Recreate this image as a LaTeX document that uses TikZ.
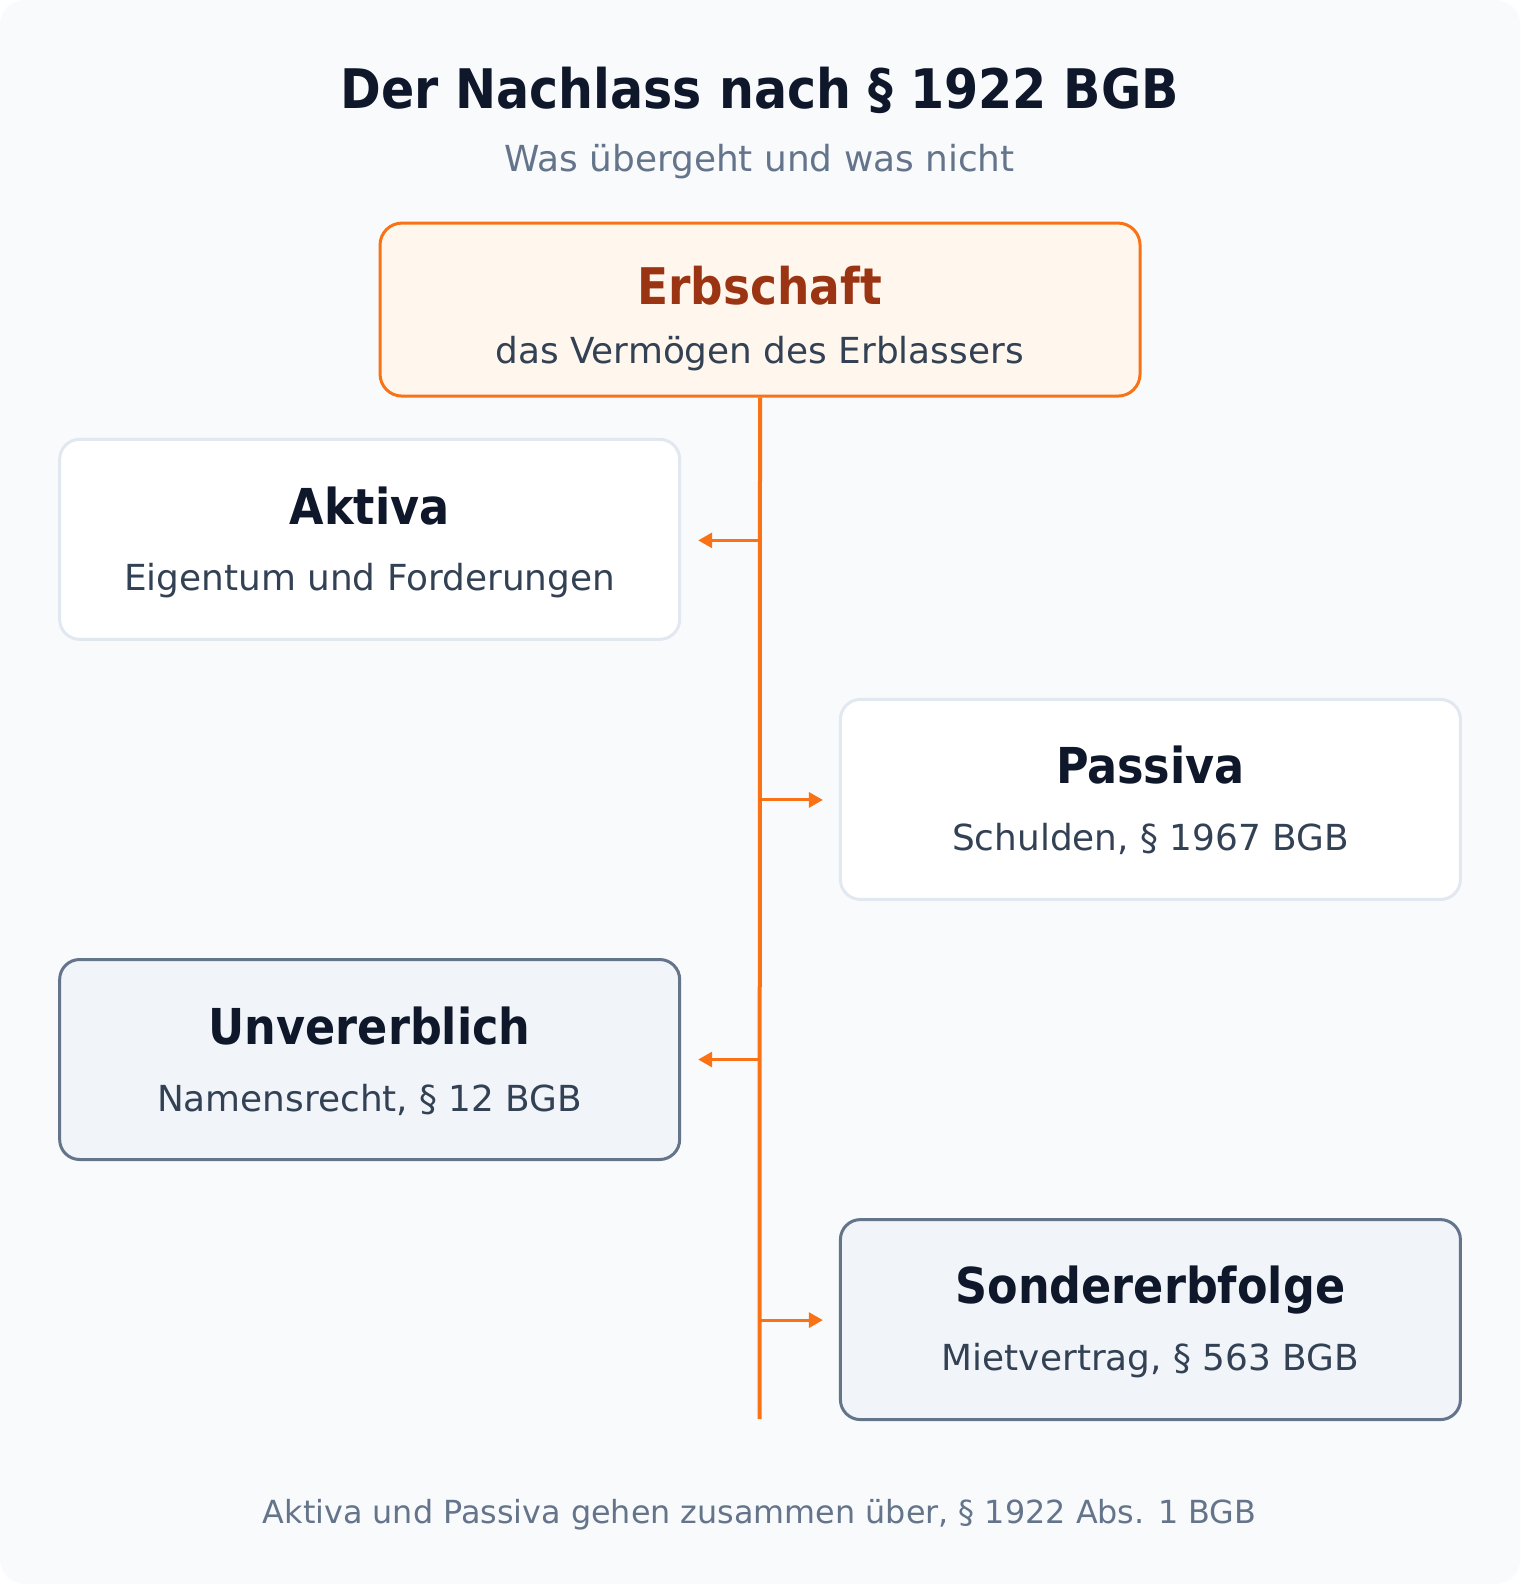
\documentclass[tikz,border=0pt]{standalone}
\usepackage{fontspec}
\setmainfont{DejaVu Sans}
\newfontfamily\hfont{DejaVu Sans Condensed}
\usetikzlibrary{arrows.meta}
\definecolor{bg}{HTML}{F8FAFC}
\definecolor{ink}{HTML}{0F172A}
\definecolor{slate}{HTML}{334155}
\definecolor{muted}{HTML}{64748B}
\definecolor{orange}{HTML}{F97316}
\definecolor{orangefill}{HTML}{FFF7ED}
\definecolor{rust}{HTML}{9A3412}
\definecolor{lightborder}{HTML}{E2E8F0}
\definecolor{greyfill}{HTML}{F1F5F9}
\newcommand{\px}[1]{\fontsize{\dimexpr #1pt*101/100\relax}{\dimexpr #1pt*101/100\relax}\selectfont}
\tikzset{
  x=1.01pt, y=-1.01pt,
  box/.style={rounded corners=20pt, line width=3pt, minimum width=620pt, minimum height=200pt, inner sep=0pt},
  plainbox/.style={box, draw=lightborder, fill=white},
  greybox/.style={box, draw=muted, fill=greyfill},
  heading/.style={anchor=base, text=ink, font=\hfont\px{49}\bfseries},
  subtext/.style={anchor=base, text=slate, font=\px{35.5}},
  trunk/.style={draw=orange, line width=4pt},
  arr/.style={draw=orange, line width=3pt, -{Triangle[length=14pt,width=15pt]}},
}
\begin{document}
\begin{tikzpicture}
\useasboundingbox (0,0) rectangle (1505,1568.3);
\fill[bg, rounded corners=24pt] (0,0) rectangle (1505,1568.3);

\node[anchor=base, text=ink, font=\hfont\px{54}\bfseries] (title) at (752,107) {Der Nachlass nach § 1922 BGB};
\node[anchor=base, text=muted, font=\px{35.5}] (subtitle) at (752,170) {Was übergeht und was nicht};

\node[rounded corners=22pt, line width=3pt, draw=orange, fill=orangefill, minimum width=760pt, minimum height=173pt] (erb) at (752.5,306.5) {};
\node[anchor=base, text=rust, font=\hfont\px{50}\bfseries] (erbt) at (752,301) {Erbschaft};
\node[subtext] (erbs) at (752,360) {das Vermögen des Erblassers};

\node[plainbox] (aktiva) at (366,534) {};
\node[heading] (aktivat) at (366,519) {Aktiva};
\node[subtext] (aktivas) at (366,585) {Eigentum und Forderungen};

\node[plainbox] (passiva) at (1139,791.5) {};
\node[heading] (passivat) at (1139,776) {Passiva};
\node[subtext] (passivas) at (1139,842) {Schulden, § 1967 BGB};

\node[greybox] (unv) at (366,1049) {};
\node[heading] (unvt) at (366,1034) {Unvererblich};
\node[subtext] (unvs) at (366,1100) {Namensrecht, § 12 BGB};

\node[greybox] (sond) at (1139,1306.5) {};
\node[heading] (sondt) at (1139,1291) {Sondererbfolge};
\node[subtext] (sonds) at (1139,1357) {Mietvertrag, § 563 BGB};

\coordinate (tend) at (752,1405);
\draw[trunk] (erb.south) -- (tend);

\coordinate (j1) at (752,535);
\coordinate (j2) at (752,792);
\coordinate (j3) at (752,1049);
\coordinate (j4) at (752,1307);
\draw[arr, shorten >=17pt] (j1) -- (j1 -| aktiva.east);
\draw[arr, shorten >=16pt] (j2) -- (j2 -| passiva.west);
\draw[arr, shorten >=17pt] (j3) -- (j3 -| unv.east);
\draw[arr, shorten >=16pt] (j4) -- (j4 -| sond.west);

\node[anchor=base, text=muted, font=\px{31.5}] (footer) at (752,1508) {Aktiva und Passiva gehen zusammen über, § 1922 Abs. 1 BGB};
\end{tikzpicture}
\end{document}
